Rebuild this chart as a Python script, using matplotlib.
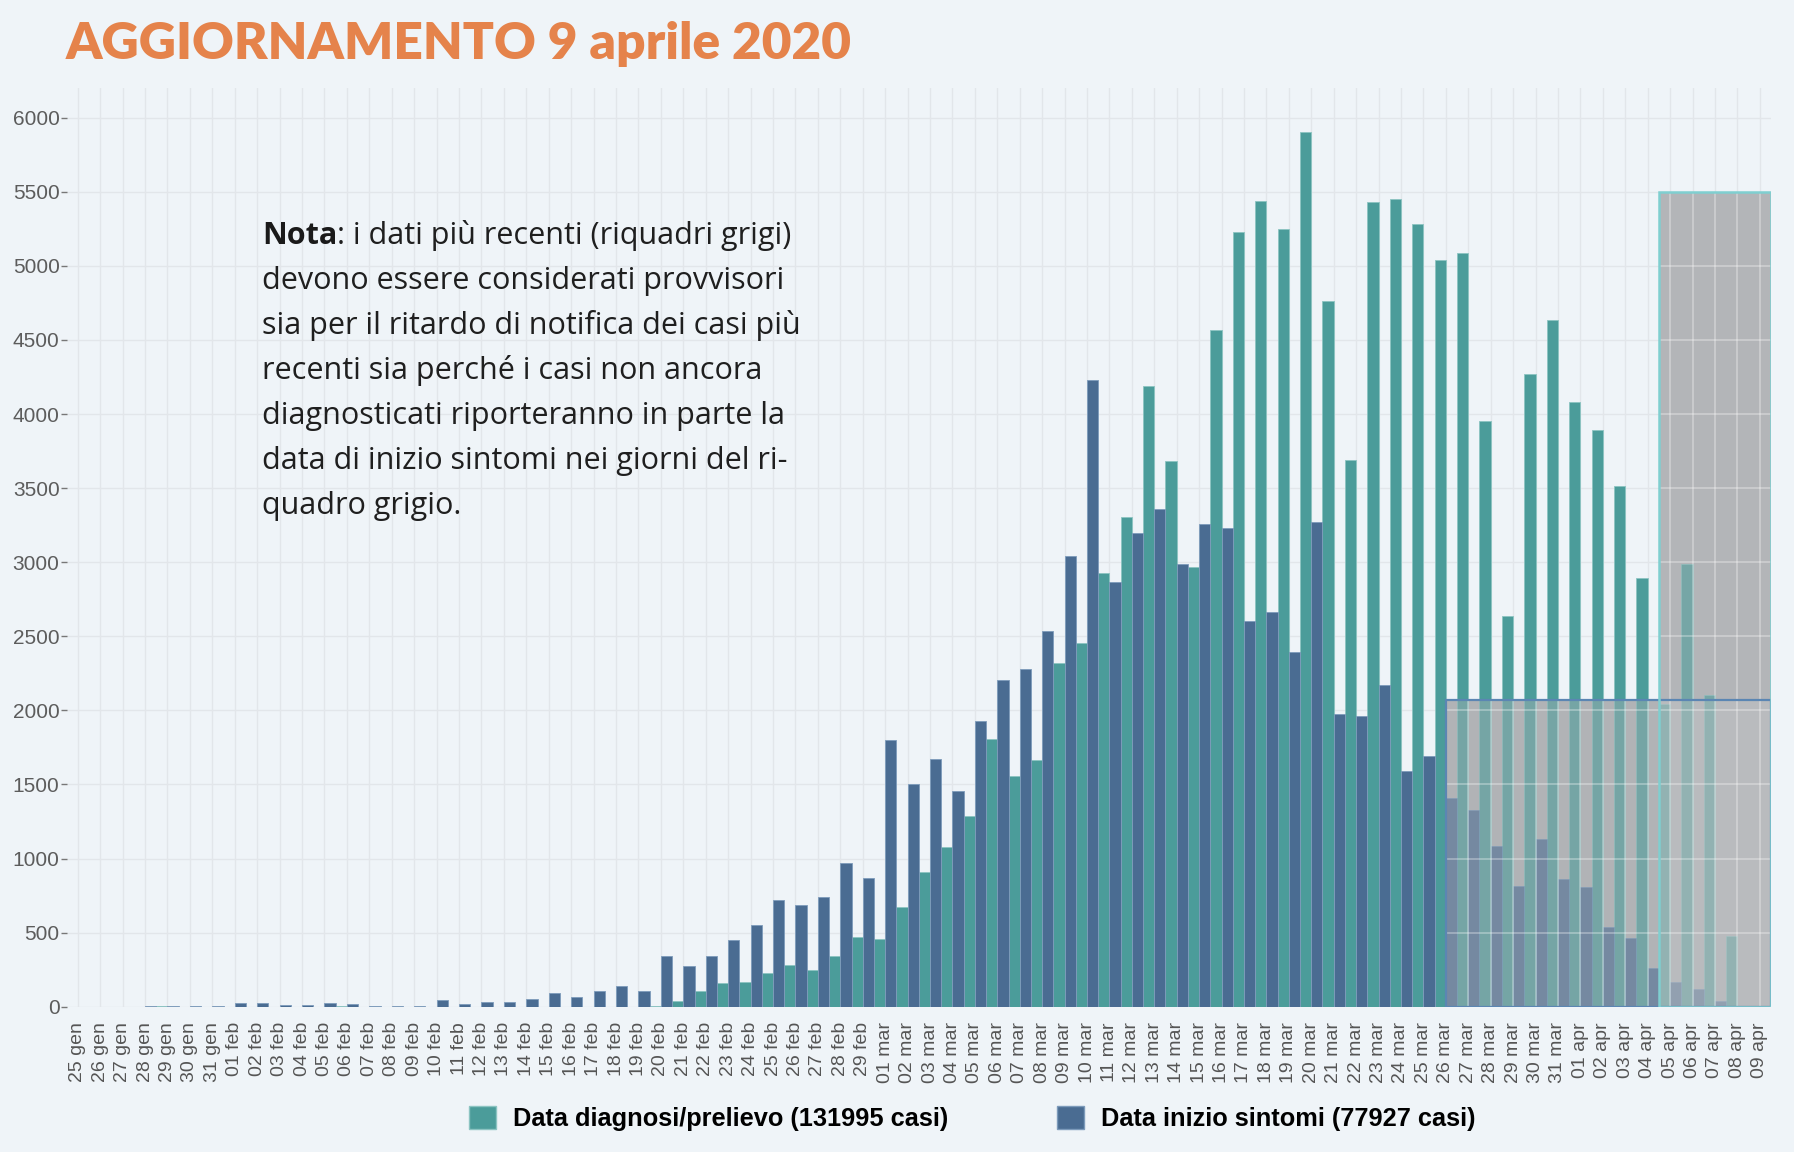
import matplotlib
matplotlib.use("Agg")
import matplotlib.pyplot as plt
from matplotlib.patches import Rectangle, Patch
import numpy as np

# date labels, 25 jan -> 9 apr 2020
dates = ([f"{d:02d} gen" for d in range(25, 32)] +
         [f"{d:02d} feb" for d in range(1, 30)] +
         [f"{d:02d} mar" for d in range(1, 32)] +
         [f"{d:02d} apr" for d in range(1, 10)])

# cases by date of diagnosis / sampling
diagnosi = ([0, 0, 0, 0, 2, 0, 0] +
            [0, 0, 0, 0, 0, 3, 0, 0, 0, 0, 0, 0, 0, 0, 0, 0, 0, 0, 0, 4,
             39, 104, 160, 168, 230, 283, 250, 342, 468] +
            [460, 673, 908, 1077, 1290, 1805, 1559, 1665, 2318, 2453,
             2924, 3306, 4191, 3680, 2965, 4570, 5229, 5438, 5249, 5901,
             4763, 3689, 5430, 5450, 5281, 5036, 5088, 3955, 2635, 4271, 4632] +
            [4079, 3895, 3511, 2891, 2040, 2985, 2105, 477, 5])

# cases by date of symptom onset
sintomi = ([0, 0, 0, 3, 7, 5, 4] +
           [27, 23, 14, 14, 23, 16, 7, 7, 7, 43, 16, 29, 34, 50, 95, 66, 109, 143, 109, 342,
            272, 342, 449, 552, 718, 684, 743, 970, 872] +
           [1797, 1505, 1674, 1455, 1926, 2206, 2282, 2534, 3039, 4230,
            2868, 3198, 3359, 2989, 3258, 3234, 2603, 2667, 2393, 3270,
            1975, 1959, 2172, 1589, 1689, 1410, 1331, 1086, 816, 1132, 861] +
           [805, 541, 466, 263, 169, 120, 38, 8, 0])

# provisional windows (grey boxes)
box_sintomi_start, box_sintomi_top = "26 mar", 2070
box_diagnosi_start, box_diagnosi_top = "05 apr", 5500

tot_diagnosi = 131995
tot_sintomi = 77927

nota_lines = [": i dati più recenti (riquadri grigi)",
              "devono essere considerati provvisori",
              "sia per il ritardo di notifica dei casi più",
              "recenti sia perché i casi non ancora",
              "diagnosticati riporteranno in parte la",
              "data di inizio sintomi nei giorni del ri-",
              "quadro grigio."]

TEAL = "#4b9c9a"
BLUE = "#4a6c92"
BG = "#eff4f8"
BOX = "#b1b3b6"
NOTE_FONT = ["Open Sans", "Lato", "DejaVu Sans"]

fig = plt.figure(figsize=(17.94, 11.52), dpi=100, facecolor=BG)
ax = fig.add_axes([0.0371, 0.1261, 0.9501, 0.7975])
ax.set_facecolor(BG)

x = np.arange(len(dates))


def draw_bars(alpha=1.0, z=2, clip=None):
    b1 = ax.bar(x - 0.25, diagnosi, width=0.5, color=TEAL, edgecolor="#8cc4c2",
                linewidth=0.6, zorder=z, alpha=alpha)
    b2 = ax.bar(x + 0.25, sintomi, width=0.5, color=BLUE, edgecolor="#7d9bbb",
                linewidth=0.6, zorder=z, alpha=alpha)
    if clip is not None:
        for r in list(b1) + list(b2):
            r.set_clip_path(clip)


draw_bars()

i_s = dates.index(box_sintomi_start)
i_d = dates.index(box_diagnosi_start)
last = len(dates) - 1
# grey boxes: opaque grey with the bars showing through faded
r1 = Rectangle((i_s, 0), last + 0.5 - i_s, box_sintomi_top, facecolor=BOX,
               edgecolor="none", zorder=3)
r2 = Rectangle((i_d - 0.5, box_sintomi_top), last + 1 - i_d,
               box_diagnosi_top - box_sintomi_top, facecolor="#b3b5b8",
               edgecolor="none", zorder=3)
ax.add_patch(r1)
ax.add_patch(r2)
draw_bars(alpha=0.58, z=3.2, clip=r1)
draw_bars(alpha=0.58, z=3.2, clip=r2)
r2b = Rectangle((i_d - 0.5, 0), last + 1 - i_d, box_sintomi_top, facecolor="#c9cbcd",
                alpha=0.35, edgecolor="none", zorder=3.3)
ax.add_patch(r2b)

ax.add_patch(Rectangle((i_s, 0), last + 0.5 - i_s, box_sintomi_top, fill=False,
                       edgecolor="#5b86b3", linewidth=1.6, zorder=4))
ax.add_patch(Rectangle((i_d - 0.5, 0), last + 1 - i_d, box_diagnosi_top, fill=False,
                       edgecolor="#7fcfd0", linewidth=1.8, zorder=4))

ax.set_xlim(-0.5, last + 0.5)
ax.set_ylim(0, 6200)
yt = np.arange(0, 6001, 500)
ax.set_yticks(yt)
ax.set_yticklabels([str(v) for v in yt], fontsize=15, color="#5c5c5c",
                   family=["Liberation Sans", "DejaVu Sans"])
ax.set_xticks(x)
ax.set_xticklabels(dates, rotation=90, fontsize=14, color="#555555",
                   family=["Liberation Sans Narrow", "Liberation Sans", "DejaVu Sans"],
                   va="top")
ax.tick_params(axis="y", length=4, width=1, color="#777777", pad=1)
ax.tick_params(axis="x", length=0, pad=11)

# grid under the bars, and lighter lines showing through the grey boxes
ax.grid(True, color="#e2e6ea", linewidth=1, zorder=0)
ax.set_axisbelow(True)
for patch in (r1, r2):
    for xv in x:
        ln = ax.axvline(xv, color="white", alpha=0.35, linewidth=1.2, zorder=3.5)
        ln.set_clip_path(patch)
    for yv in yt:
        ln = ax.axhline(yv, color="white", alpha=0.35, linewidth=1.2, zorder=3.5)
        ln.set_clip_path(patch)

for s in ax.spines.values():
    s.set_visible(False)

# title
fig.text(66 / 1794, 1 - 59 / 1152, "AGGIORNAMENTO 9 aprile 2020", fontsize=37,
         fontweight="heavy", color="#e5834b", family=["Lato", "DejaVu Sans"],
         va="baseline", ha="left")

# note
nx, ny, step = 262 / 1794, 1 - 244 / 1152, 45 / 1152
t0 = fig.text(nx, ny, "Nota", fontsize=22, fontweight="bold", color="#1a1a1a",
              family=NOTE_FONT, va="baseline")
fig.canvas.draw()
bb = t0.get_window_extent()
fig.text(bb.x1 / fig.bbox.width, ny, nota_lines[0], fontsize=22, color="#1f1f1f",
         family=NOTE_FONT, va="baseline")
for k, line in enumerate(nota_lines[1:], start=1):
    fig.text(nx, ny - k * step, line, fontsize=22, color="#1f1f1f",
             family=NOTE_FONT, va="baseline")

# legend
handles = [Patch(facecolor=TEAL, edgecolor="#8cc4c2",
                 label=f"Data diagnosi/prelievo ({tot_diagnosi} casi)"),
           Patch(facecolor=BLUE, edgecolor="#7d9bbb",
                 label=f"Data inizio sintomi ({tot_sintomi} casi)")]
fig.legend(handles=handles, loc="center", bbox_to_anchor=(0.542, 0.029), ncol=2,
           frameon=False, handlelength=1.05, handleheight=1.05, columnspacing=4.3,
           handletextpad=0.68,
           prop={"family": ["Liberation Sans Narrow", "Liberation Sans", "DejaVu Sans"],
                 "weight": "bold", "size": 18.3})

fig.savefig("out.png", dpi=100, facecolor=BG)
